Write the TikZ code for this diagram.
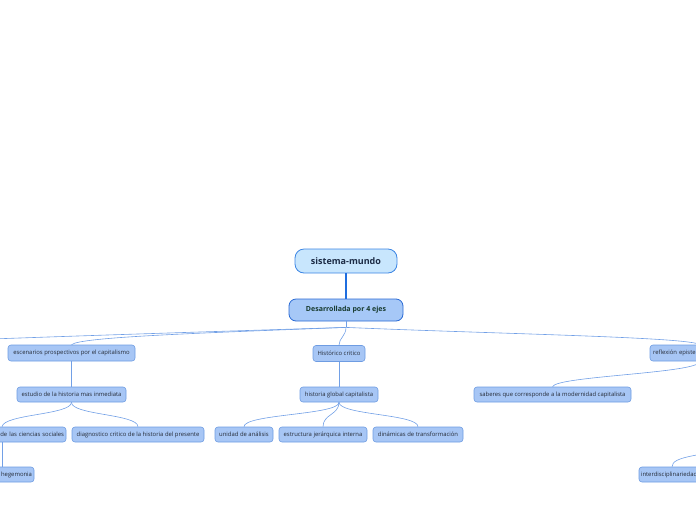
\documentclass[tikz,border=0pt]{standalone}
\usepackage{fontspec}
\setmainfont{Open Sans}
\usetikzlibrary{calc}
\definecolor{rootfill}{HTML}{C8E6FD}
\definecolor{rootdraw}{HTML}{3B85E4}
\definecolor{ejefill}{HTML}{A6C8F7}
\definecolor{ejedraw}{HTML}{2A6AD4}
\definecolor{subfill}{HTML}{A7C6F5}
\definecolor{subdraw}{HTML}{6E9CE2}
\definecolor{linkcol}{HTML}{72A0E6}
\definecolor{mainlinkcol}{HTML}{1F6EDF}
\definecolor{txtdark}{HTML}{1C2B45}
\definecolor{txteje}{HTML}{173A2E}
\definecolor{txtsub}{HTML}{262C38}
\tikzset{
  rootbox/.style={draw=rootdraw, fill=rootfill, line width=0.8pt, rounded corners=9pt, inner sep=0pt, minimum width=102pt, minimum height=24pt, font=\fontsize{9}{10}\selectfont\bfseries, text=txtdark},
  ejebox/.style={draw=ejedraw, fill=ejefill, line width=0.8pt, rounded corners=7pt, inner sep=0pt, minimum width=114pt, minimum height=22pt, font=\fontsize{7}{8}\selectfont\bfseries, text=txteje},
  subbox/.style={draw=subdraw, fill=subfill, line width=0.6pt, rounded corners=3pt, inner sep=0pt, minimum height=15pt, font=\fontsize{5.9}{7}\selectfont, text=txtsub},
  link/.style={draw=linkcol, line width=0.6pt},
  mainlink/.style={draw=mainlinkcol, line width=1.2pt},
}
\newcommand{\curvelink}[2]{%
  \draw[link] (#1) .. controls ($(#1)+(0,12)$) and ($(#2)+(0,-12)$) .. (#2);}
\begin{document}
\begin{tikzpicture}[x=1pt,y=-1pt]
\useasboundingbox (0,0) rectangle (696,520);
% main nodes
\node[rootbox] (root) at (346,261) {sistema-mundo};
\node[ejebox] (des) at (346,310) {Desarrollada por 4 ejes};
% level 1
\node[subbox, minimum width=127pt, minimum height=16pt] (esc) at (71.5,353) {escenarios prospectivos por el capitalismo};
\node[subbox, minimum width=52pt, minimum height=16pt] (hist) at (339,353.5) {Histórico critico};
\node[subbox, minimum width=100pt, minimum height=16pt, text width=94pt, align=left] (refl) at (700,353) {reflexión epistemológica};
\coordinate (far) at (-160,345);
% level 2
\node[subbox, minimum width=109pt] (est) at (71.5,394.5) {estudio de la historia mas inmediata};
\node[subbox, minimum width=78pt] (hgc) at (339,394.5) {historia global capitalista};
\node[subbox, minimum width=157pt] (sab) at (552.5,394.5) {saberes que corresponde a la modernidad capitalista};
% level 3
\node[subbox, minimum width=128pt, text width=124pt, align=right] (cs) at (2,434.5) {de las ciencias sociales};
\node[subbox, minimum width=132pt] (diag) at (138,434.5) {diagnostico critico de la historia del presente};
\node[subbox, minimum width=58pt] (uni) at (244,434.5) {unidad de análisis};
\node[subbox, minimum width=88pt] (estr) at (323,434.5) {estructura jerárquica interna};
\node[subbox, minimum width=90pt] (din) at (418,434.5) {dinámicas de transformación};
% level 4
\node[subbox, minimum width=64pt, text width=60pt, align=right] (heg) at (2,474.5) {hegemonia};
\node[subbox, minimum width=66pt, text width=62pt, align=left] (inter) at (672,474.5) {interdisciplinariedad};
\coordinate (interpar) at (760,445);
% connectors
\draw[mainlink] (root.south) -- (des.north);
\coordinate (dbot) at ($(des.south)+(0,6)$);
\draw[link] (des.south) -- (dbot);
\draw[link] (dbot) .. controls (200,333) and (80,337) .. (esc.north);
\draw[link] (dbot) .. controls (200,332) and (0,338) .. (far);
\draw[link] (dbot) .. controls (346,336) and (339,338) .. (hist.north);
\draw[link] (dbot) .. controls (500,334) and (690,337) .. (refl.north);
\curvelink{esc.south}{est.north}
\curvelink{hist.south}{hgc.north}
\draw[link] (refl.south) .. controls ($(refl.south)+(0,12)$) and (556,376) .. (sab.north);
\draw[link] (est.south) .. controls (71,415) and (4,414) .. (cs.north);
\draw[link] (est.south) .. controls (71,415) and (138,414) .. (diag.north);
\draw[link] (hgc.south) .. controls (339,415) and (244,414) .. (uni.north);
\draw[link] (hgc.south) .. controls (339,415) and (323,414) .. (estr.north);
\draw[link] (hgc.south) .. controls (339,415) and (418,414) .. (din.north);
\draw[link] (cs.south) -- (heg.north);
\draw[link] (interpar) .. controls (700,455) and (672,456) .. (inter.north);
\end{tikzpicture}
\end{document}
